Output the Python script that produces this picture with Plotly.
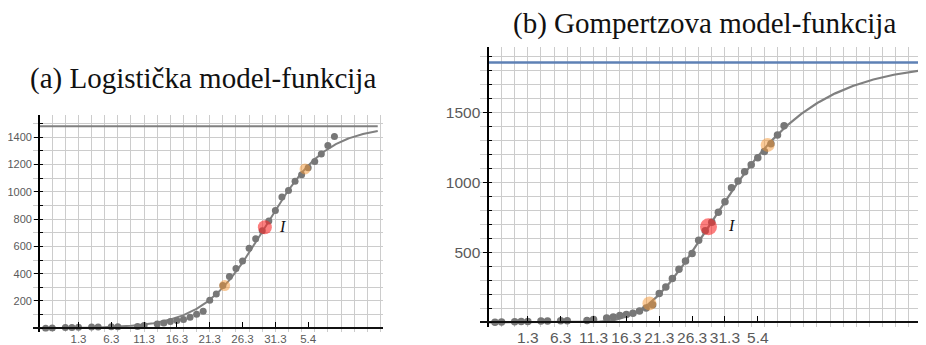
import numpy as np
import plotly.graph_objects as go

# ---- data (day number, 25.2. = day 1) and cumulative cases ----
days = [1, 2, 4, 5, 6, 8, 9, 11, 12, 15, 16,
        18, 19, 20, 21, 22, 23, 24, 25,
        26, 27, 28, 29, 30, 31, 32, 33, 34, 35,
        36, 37, 38, 39, 40, 41, 42, 43, 44, 45]
cases = [1, 3, 5, 6, 7, 9, 10, 12, 12, 13, 20,
         32, 39, 49, 57, 65, 81, 103, 125,
         206, 252, 313, 380, 438, 492, 586, 655, 715, 786,
         862, 961, 1009, 1076, 1125, 1175, 1221, 1276, 1338, 1405]

tick_days = [6, 11, 16, 21, 26, 31, 36, 41]
tick_labels = ["1.3", "6.3", "11.3", "16.3", "21.3", "26.3", "31.3", "5.4"]

left_ytick_vals = [200, 400, 600, 800, 1000, 1200, 1400]
right_ytick_vals = [500, 1000, 1500]

# ---- model parameters ----
logistic_K, logistic_r, logistic_t0 = 1480, 0.215, 34.4
gompertz_K, gompertz_c, gompertz_t0 = 1857, 0.107, 33.5

titles = ["(a) Logistička model-funkcija", "(b) Gompertzova model-funkcija"]

# ---- page geometry: the browser body has an 8px margin ----
WIN_W, WIN_H = 926, 345
OFF = 8
W, H = WIN_W - OFF, WIN_H - OFF

# ---- styles ----
PT = "#777777"
CURVE = "#808080"
GRID = "#cccccc"
RED = "rgba(250,40,40,0.6)"
ORANGE = "rgba(245,150,50,0.5)"
BLUE = "#5E81B5"
SANS = "Liberation Sans, Arial, sans-serif"
SERIF = "Liberation Serif, serif"

# plot geometry (window pixels)
L = dict(x0=33, x1=383, ytop=115, ybot=331.7, axis_x=39.1, axis_y=328.3,
         xr=[-0.93, 52.4], yr=[-25, 1562], curve_end=51.6, standoff=0,
         xfont=dict(family=SANS, size=11.5, color="#5a5a5a"),
         yfont=dict(family=SANS, size=11, color="#5a5a5a"))
R = dict(x0=480, x1=926, ytop=46.7, ybot=326.7, axis_x=488.4, axis_y=322.3,
         xr=[-1.28, 66.6], yr=[-31, 1969], curve_end=66.6, standoff=1,
         xfont=dict(family=SANS, size=15.5, color="#5a5a5a"),
         yfont=dict(family=SANS, size=15.5, color="#5a5a5a"))


def logistic(t):
    return logistic_K / (1 + np.exp(-logistic_r * (t - logistic_t0)))


def gompertz(t):
    return gompertz_K * np.exp(-np.exp(-gompertz_c * (t - gompertz_t0)))


fig = go.Figure()

# ---------- left: logistic ----------
tl = np.linspace(0, L["curve_end"], 300)
fig.add_trace(go.Scatter(x=[0, L["curve_end"]], y=[logistic_K, logistic_K], mode="lines",
                         line=dict(color=CURVE, width=2), xaxis="x", yaxis="y"))
fig.add_trace(go.Scatter(x=tl, y=logistic(tl), mode="lines",
                         line=dict(color=CURVE, width=2), xaxis="x", yaxis="y"))
fig.add_trace(go.Scatter(x=days, y=cases, mode="markers",
                         marker=dict(color=PT, size=7), xaxis="x", yaxis="y"))
a = np.log(2 + np.sqrt(3)) / logistic_r
lx = np.array([logistic_t0 - a, logistic_t0 + a])
fig.add_trace(go.Scatter(x=lx, y=logistic(lx), mode="markers",
                         marker=dict(color=ORANGE, size=11), xaxis="x", yaxis="y"))
fig.add_trace(go.Scatter(x=[logistic_t0], y=[logistic_K / 2], mode="markers",
                         marker=dict(color=RED, size=14), xaxis="x", yaxis="y"))

# ---------- right: Gompertz ----------
tr = np.linspace(0, R["curve_end"], 300)
fig.add_trace(go.Scatter(x=[0, R["curve_end"]], y=[gompertz_K, gompertz_K], mode="lines",
                         line=dict(color=BLUE, width=2.5), xaxis="x2", yaxis="y2"))
fig.add_trace(go.Scatter(x=tr, y=gompertz(tr), mode="lines",
                         line=dict(color=CURVE, width=2.2), xaxis="x2", yaxis="y2"))
fig.add_trace(go.Scatter(x=days, y=cases, mode="markers",
                         marker=dict(color=PT, size=7.5), xaxis="x2", yaxis="y2"))
g = np.log((3 + np.sqrt(5)) / 2) / gompertz_c
gx = np.array([gompertz_t0 - g, gompertz_t0 + g])
fig.add_trace(go.Scatter(x=gx, y=gompertz(gx), mode="markers",
                         marker=dict(color=ORANGE, size=14), xaxis="x2", yaxis="y2"))
fig.add_trace(go.Scatter(x=[gompertz_t0], y=[gompertz_K / np.e], mode="markers",
                         marker=dict(color=RED, size=17), xaxis="x2", yaxis="y2"))

# dummy traces so the overlay axes get drawn
for xa, ya in [("x3", "y"), ("x", "y3"), ("x4", "y2"), ("x2", "y4")]:
    fig.add_trace(go.Scatter(x=[None], y=[None], xaxis=xa, yaxis=ya, hoverinfo="skip"))


def px_x(p):
    return (p - OFF) / W


def px_y(p):
    return (WIN_H - p) / H


def grid_axis(dom, rng, dtick):
    return dict(domain=dom, range=rng, showgrid=True, gridcolor=GRID, gridwidth=1,
                tick0=0, dtick=dtick, showticklabels=False, ticks="", zeroline=False,
                showline=False, automargin=False, fixedrange=True)


layout_axes = {}
for i, G in ((1, L), (2, R)):
    sfx = "" if i == 1 else "2"
    xdom = [px_x(G["x0"]), min(1.0, px_x(G["x1"]))]
    ydom = [px_y(G["ybot"]), px_y(G["ytop"])]
    layout_axes["xaxis" + sfx] = grid_axis(xdom, G["xr"], 2)
    layout_axes["yaxis" + sfx] = grid_axis(ydom, G["yr"], 100)
    layout_axes["yaxis" + sfx]["anchor"] = "x" + sfx
    layout_axes["xaxis" + sfx]["anchor"] = "y" + sfx
    ov = "3" if i == 1 else "4"
    layout_axes["xaxis" + ov] = dict(
        overlaying="x" + sfx, anchor="free", position=px_y(G["axis_y"]), range=G["xr"],
        tickmode="array", tickvals=tick_days, ticktext=tick_labels, ticks="inside",
        ticklen=5, tickcolor="#000", tickwidth=1, showline=True, linecolor="#111",
        linewidth=2, showgrid=False, zeroline=False, tickangle=0, tickfont=G["xfont"],
        ticklabelstandoff=G["standoff"],
        automargin=False, fixedrange=True, side="bottom")
    layout_axes["yaxis" + ov] = dict(
        overlaying="y" + sfx, anchor="free", position=px_x(G["axis_x"]), range=G["yr"],
        tickmode="array", tickvals=(left_ytick_vals if i == 1 else right_ytick_vals),
        ticks="outside", ticklen=4, tickcolor="#000", tickwidth=1,
        minor=dict(dtick=100, tick0=0, ticks="inside", ticklen=3, tickcolor="#000", showgrid=False),
        showline=True, linecolor="#000", linewidth=2, showgrid=False, zeroline=False,
        tickfont=G["yfont"], automargin=False, fixedrange=True, side="left")

annotations = [
    dict(text=titles[0], x=px_x(202.5), y=px_y(79), xref="paper", yref="paper",
         showarrow=False, xanchor="center", yanchor="middle",
         font=dict(family=SERIF, size=29, color="#111")),
    dict(text=titles[1], x=px_x(704), y=px_y(23.5), xref="paper", yref="paper",
         showarrow=False, xanchor="center", yanchor="middle",
         font=dict(family=SERIF, size=29, color="#111")),
    dict(text="<i>I</i>", x=logistic_t0, y=logistic_K / 2, xref="x", yref="y",
         showarrow=False, xshift=18, yshift=1,
         font=dict(family=SERIF, size=16, color="#111")),
    dict(text="<i>I</i>", x=gompertz_t0, y=gompertz_K / np.e, xref="x2", yref="y2",
         showarrow=False, xshift=23, yshift=1,
         font=dict(family=SERIF, size=16, color="#111")),
]

fig.update_layout(width=W, height=H, margin=dict(l=0, r=0, t=0, b=0),
                  paper_bgcolor="white", plot_bgcolor="white", showlegend=False,
                  annotations=annotations, **layout_axes)

fig.write_html("out.html")
